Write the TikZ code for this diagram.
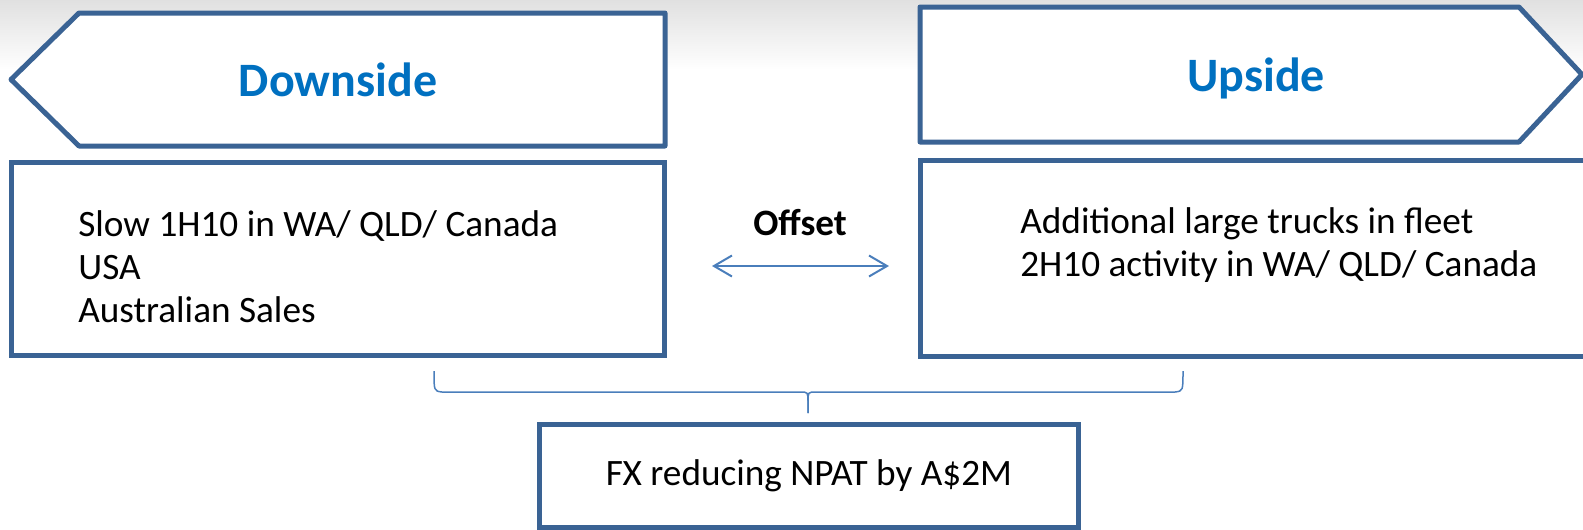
\documentclass[tikz,border=0pt]{standalone}
\usepackage{fontspec}
\setmainfont{Carlito}
\usetikzlibrary{shapes,arrows,positioning,arrows.meta}
\definecolor{edgeblue}{HTML}{3A6394}
\definecolor{titleblue}{HTML}{0070C0}
\definecolor{linkblue}{HTML}{4A7EBB}

\begin{document}
\begin{tikzpicture}[x=0.02cm, y=-0.02cm, every node/.style={font=\fontsize{21.2}{24.5}\selectfont}]
    \tikzstyle{outline} = [draw=edgeblue, line width=0.1cm, line join=round, fill=white]
    \tikzstyle{title} = [text=titleblue, font=\fontsize{27.3}{31}\selectfont\bfseries]
    \tikzstyle{box} = [rectangle, draw=edgeblue, line width=0.1cm, fill=white]
    \tikzstyle{list} = [align=left, anchor=west, inner sep=0pt]
    \useasboundingbox (0,0) rectangle (1583,529);
    \shade[top color=gray!24, bottom color=white] (0,0) rectangle (1583,70);

    % the two banners
    \draw [outline] (11,79.5) -- (79,13) -- (665,13) -- (665,146) -- (79,146) -- cycle;
    \draw [outline] (1582,74.5) -- (1519,7) -- (920,7) -- (920,142) -- (1519,142) -- cycle;
    \node (downside) [title] at (338,80) {Downside};
    \node (upside) [title] at (1256,78) {Upside};

    \node (downbox) [box, minimum width=13.08cm, minimum height=3.88cm] at (338,259) {};
    \node (upbox) [box, minimum width=13.6cm, minimum height=3.94cm] at (1260,258.5) {};
    \node (fx) [box, minimum width=10.8cm, minimum height=2.06cm] at (809,475.5) {FX reducing NPAT by A\$2M};

    \node (downlist) [list] at (78,267) {Slow 1H10 in WA/ QLD/ Canada\\USA\\Australian Sales};
    \node (uplist) [list] at (1020,245) {Additional large trucks in fleet\\2H10 activity in WA/ QLD/ Canada};

    \node (offset) [font=\fontsize{21.2}{24.5}\selectfont\bfseries] at (800,223) {Offset};
    \coordinate (offl) at (712,266);
    \coordinate (offr) at (889,266);
    \draw [{Straight Barb[length=0.36cm, width=0.42cm]}-{Straight Barb[length=0.36cm, width=0.42cm]}, linkblue, line width=0.04cm] (offl) -- (offr);

    % brace under both boxes
    \coordinate (bracel) at (434,371);
    \coordinate (bracer) at (1183,371);
    \coordinate (bracetip) at (808,413);
    \draw [linkblue, line width=0.03cm] (bracel) .. controls (434,391) .. (442,392) -- (800,392) .. controls (808,392) .. (808,402) -- (bracetip);
    \draw [linkblue, line width=0.03cm] (bracer) .. controls (1183,391) .. (1175,392) -- (816,392) .. controls (808,392) .. (808,402) -- (bracetip);

\end{tikzpicture}
\end{document}
